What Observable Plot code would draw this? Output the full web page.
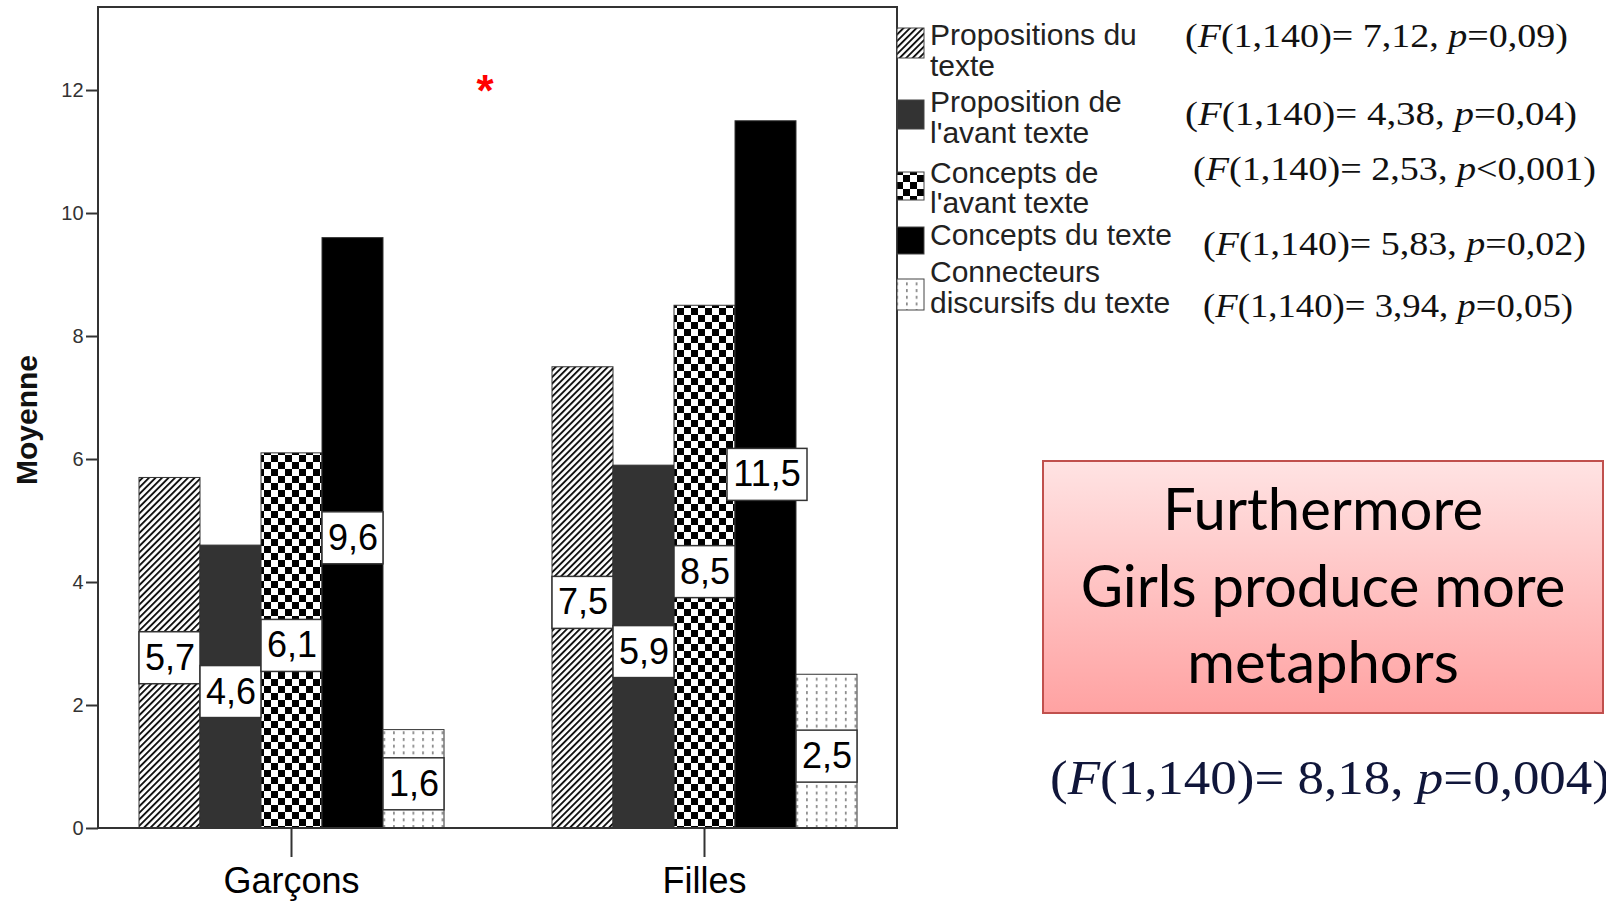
<!DOCTYPE html>
<html>
<head>
<meta charset="utf-8">
<script src="https://cdn.jsdelivr.net/npm/d3@7"></script>
<script src="https://cdn.jsdelivr.net/npm/@observablehq/plot@0.6"></script>
<style>
  html, body { margin: 0; padding: 0; background: #fff; }
  #wrap { position: relative; width: 1606px; height: 902px; overflow: hidden; }
  #wrap svg { position: absolute; left: 0; top: 0; }
  #overlay { pointer-events: none; }
</style>
</head>
<body>
<div id="wrap">
<svg id="overlay" width="1606" height="902" xmlns="http://www.w3.org/2000/svg">
  <defs>
    <pattern id="pHatch" patternUnits="userSpaceOnUse" width="4.6" height="4.6" patternTransform="rotate(45)">
      <rect width="4.6" height="4.6" fill="#fff"/>
      <rect x="0" y="0" width="1.9" height="4.6" fill="#111"/>
    </pattern>
    <pattern id="pCheck" patternUnits="userSpaceOnUse" width="14" height="14">
      <rect width="14" height="14" fill="#fff"/>
      <rect x="0" y="0" width="7" height="7" fill="#000"/>
      <rect x="7" y="7" width="7" height="7" fill="#000"/>
    </pattern>
    <pattern id="pDots" patternUnits="userSpaceOnUse" width="9.7" height="6.7">
      <rect width="9.7" height="6.7" fill="#fff"/>
      <rect x="4" y="1" width="1.5" height="3" fill="#777"/>
    </pattern>
    <linearGradient id="boxGrad" x1="0" y1="0" x2="0" y2="1">
      <stop offset="0" stop-color="#ffe3e3"/>
      <stop offset="1" stop-color="#ffa2a2"/>
    </linearGradient>
  </defs>
</svg>
</div>
<script>
// ---------------- data ----------------
const groups = ["Garçons", "Filles"];
const series = [
  "Propositions du texte",
  "Proposition de l'avant texte",
  "Concepts de l'avant texte",
  "Concepts du texte",
  "Connecteurs discursifs du texte"
];
const garconsValues = [5.7, 4.6, 6.1, 9.6, 1.6];
const fillesValues = [7.5, 5.9, 8.5, 11.5, 2.5];
const yTicks = [0, 2, 4, 6, 8, 10, 12];
const legendLines = [
  ["Propositions du", "texte"],
  ["Proposition de", "l'avant texte"],
  ["Concepts de", "l'avant texte"],
  ["Concepts du texte"],
  ["Connecteurs", "discursifs du texte"]
];
const statF = ["7,12", "4,38", "2,53", "5,83", "3,94"];
const statP = ["=0,09", "=0,04", "<0,001", "=0,02", "=0,05"];
const globalF = "8,18";
const globalP = "=0,004";
const noteLines = ["Furthermore", "Girls produce more", "metaphors"];
const yLabel = "Moyenne";

// ---------------- styles / layout ----------------
const seriesFills = ["url(#pHatch)", "#333333", "url(#pCheck)", "#000000", "url(#pDots)"];
const sans = "'Liberation Sans', Arial, sans-serif";
const serif = "'Liberation Serif', 'Times New Roman', serif";

const W = 1606, H = 902;
const mL = 98, mR = 709, mT = 7, mB = 74;
const fxPadInner = 0.259, fxPadOuter = 0.0968;
const fxStep = (W - mL - mR) / (groups.length - fxPadInner + 2 * fxPadOuter);
const axisShift = fxPadOuter * fxStep; // y axis sits at the frame edge, left of the first facet

const valuesByGroup = [garconsValues, fillesValues];
const data = groups.flatMap((g, gi) =>
  series.map((s, si) => ({group: g, series: s, value: valuesByGroup[gi][si]}))
);
const fmt = v => v.toFixed(1).replace(".", ",");
const isWide = d => fmt(d.value).length > 3;
const narrow = data.filter(d => !isWide(d));
const wide = data.filter(isWide);
const mid = d => d.value / 2;

const plot = Plot.plot({
  width: W,
  height: H,
  marginLeft: mL,
  marginRight: mR,
  marginTop: mT,
  marginBottom: mB,
  style: {fontFamily: sans, color: "#333", background: "transparent", overflow: "visible"},
  fx: {domain: groups, paddingInner: fxPadInner, paddingOuter: fxPadOuter, label: null},
  x: {domain: series, padding: 0, axis: null},
  y: {domain: [0, 13.35], label: null},
  color: {domain: series, range: seriesFills},
  marks: [
    Plot.barY(data, {fx: "group", x: "series", y: "value", fill: "series", stroke: "#333", strokeWidth: 1}),
    Plot.barY(narrow, {
      fx: "group", x: "series", y1: mid, y2: mid,
      fill: "#fff", stroke: "#333", strokeWidth: 1.5, insetTop: -21, insetBottom: -31
    }),
    Plot.barY(wide, {
      fx: "group", x: "series", y1: mid, y2: mid,
      fill: "#fff", stroke: "#333", strokeWidth: 1.5, insetTop: -26, insetBottom: -26,
      insetLeft: -8, insetRight: -11
    }),
    Plot.text(narrow, {fx: "group", x: "series", y: mid, text: d => fmt(d.value), fontSize: 36, fill: "#000", dy: 5}),
    Plot.text(wide, {fx: "group", x: "series", y: mid, text: d => fmt(d.value), fontSize: 36, fill: "#000", dx: 1}),
    Plot.axisY({ticks: yTicks, tickSize: 12, tickPadding: 3, fontSize: 20, label: null, strokeWidth: 2, dx: -axisShift, fill: "#333"}),
    Plot.axisFx({anchor: "bottom", tickSize: 29, tickPadding: 10, fontSize: 36, label: null, strokeWidth: 2, fill: "#000"})
  ]
});
const wrap = document.getElementById("wrap");
wrap.insertBefore(plot, wrap.firstChild);

// Frame around the plotting area, from the scales' ranges
const fxR = plot.scale("fx").range;
const yR = plot.scale("y").range;
d3.select(plot).append("rect")
  .attr("x", Math.min(...fxR)).attr("y", Math.min(...yR))
  .attr("width", Math.abs(fxR[1] - fxR[0])).attr("height", Math.abs(yR[1] - yR[0]))
  .attr("fill", "none").attr("stroke", "#333").attr("stroke-width", 2);

// ---------------- overlay: axis title, legend, stats, note ----------------
const ov = d3.select("#overlay");

ov.append("text")
  .attr("transform", "translate(37,420) rotate(-90)")
  .attr("text-anchor", "middle")
  .attr("font-family", sans).attr("font-weight", "bold").attr("font-size", 30)
  .attr("fill", "#111")
  .text(yLabel);

ov.append("text")
  .attr("x", 485).attr("y", 106)
  .attr("text-anchor", "middle")
  .attr("font-family", sans).attr("font-weight", "bold").attr("font-size", 44)
  .attr("fill", "#ff0000")
  .text("*");

// legend
const swatchTop = [28, 100, 172, 227, 279];
const swatchH = [30, 29, 28, 27, 31];
const lineBase = [[45, 76], [112, 143], [183, 213], [245], [282, 313]];
const legendX = Math.max(...fxR);
series.forEach((s, i) => {
  ov.append("rect")
    .attr("x", legendX).attr("y", swatchTop[i])
    .attr("width", 27).attr("height", swatchH[i])
    .attr("fill", seriesFills[i]).attr("stroke", "#444").attr("stroke-width", 1);
  legendLines[i].forEach((ln, j) => {
    ov.append("text")
      .attr("x", legendX + 33).attr("y", lineBase[i][j])
      .attr("font-family", sans).attr("font-size", 30).attr("fill", "#222")
      .text(ln);
  });
});

// statistics next to legend
const statX = [1185, 1185, 1193, 1203, 1203];
const statW = [383, 392, 403, 383, 370];
const statY = [47, 125, 180, 255, 317];
function statText(sel, f, p) {
  sel.append("tspan").text("(");
  sel.append("tspan").attr("font-style", "italic").text("F");
  sel.append("tspan").text("(1,140)= " + f + ", ");
  sel.append("tspan").attr("font-style", "italic").text("p");
  sel.append("tspan").text(p + ")");
}
statF.forEach((f, i) => {
  const t = ov.append("text")
    .attr("x", statX[i]).attr("y", statY[i])
    .attr("font-family", serif).attr("font-size", 34).attr("fill", "#111")
    .attr("textLength", statW[i]).attr("lengthAdjust", "spacingAndGlyphs");
  statText(t, f, statP[i]);
});

// note box
ov.append("rect")
  .attr("x", 1043).attr("y", 461).attr("width", 560).attr("height", 252)
  .attr("fill", "url(#boxGrad)").attr("stroke", "#c0504d").attr("stroke-width", 2);
const noteBase = [530, 607, 683];
noteLines.forEach((ln, i) => {
  ov.append("text")
    .attr("x", 1323).attr("y", noteBase[i])
    .attr("text-anchor", "middle")
    .attr("font-family", "Lato, 'Open Sans', sans-serif").attr("font-size", 58).attr("fill", "#000")
    .text(ln);
});

const g = ov.append("text")
  .attr("x", 1050).attr("y", 794)
  .attr("font-family", serif).attr("font-size", 48).attr("fill", "#10163a")
  .attr("textLength", 560).attr("lengthAdjust", "spacingAndGlyphs");
statText(g, globalF, globalP);
</script>
</body>
</html>
